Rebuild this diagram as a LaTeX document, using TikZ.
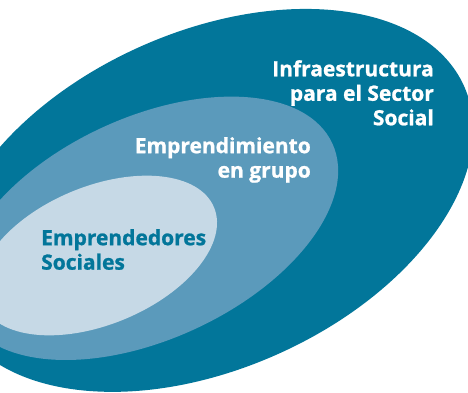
\documentclass[tikz,border=0pt]{standalone}
\usepackage{fontspec}
\setmainfont{Open Sans}
\newfontfamily\lblfont{Open Sans}[UprightFont={* Bold}, FakeBold=1.0]
\definecolor{outerc}{HTML}{02769A}
\definecolor{midc}{HTML}{5B9ABB}
\definecolor{innerc}{HTML}{C6D9E6}
\begin{document}
\begin{tikzpicture}[x=1pt,y=-1pt,
  lbl/.style={inner sep=0pt, font=\lblfont\fontsize{21}{24.5}\selectfont},
  whitelbl/.style={lbl, text=white, align=right},
  darklbl/.style={lbl, text=outerc, align=left}]
\useasboundingbox (0,0) rectangle (468,393);
\clip (0,0) rectangle (468,393);
\fill[outerc, rotate around={24.1:(209,200.4)}] (209,200.4) ellipse [x radius=279.5pt, y radius=168.4pt];
\fill[midc, rotate around={24.8:(148.6,228.3)}] (148.6,228.3) ellipse [x radius=202.4pt, y radius=110.9pt];
\fill[innerc, rotate around={22.5:(98,255.5)}] (98,255.5) ellipse [x radius=125.6pt, y radius=69pt];
\node[whitelbl, anchor=north east] (infra) at (434,60) {Infraestructura\\para el Sector\\Social};
\node[whitelbl, anchor=north east] (grupo) at (311,137) {Emprendimiento\\en grupo};
\node[darklbl, anchor=north west] (soc) at (41,229) {Emprendedores\\Sociales};
\end{tikzpicture}
\end{document}
